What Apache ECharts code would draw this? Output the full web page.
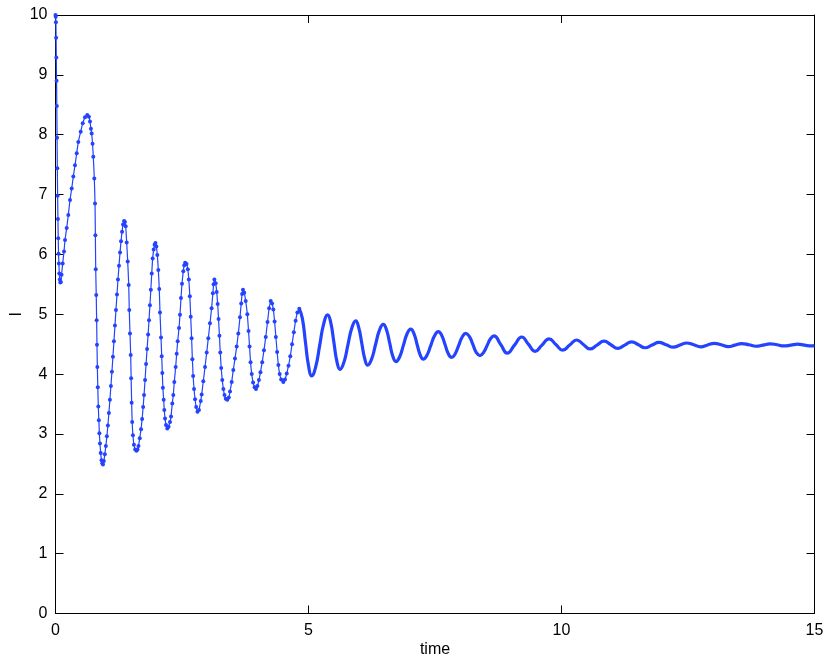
<!DOCTYPE html>
<html>
<head>
<meta charset="utf-8">
<script src="https://cdn.jsdelivr.net/npm/echarts@6/dist/echarts.min.js"></script>
<style>
html,body{margin:0;padding:0;background:#fff;}
#chart{width:830px;height:662px;}
</style>
</head>
<body>
<div id="chart"></div>
<script>
// Early part of the response (individual samples clearly visible as dots)
const earlyTime = [
0.000,0.004,0.008,0.012,0.016,0.021,0.026,0.031,0.036,0.042,0.048,0.054,0.060,0.067,0.075,0.085,0.095,0.105,0.120,
0.142,0.168,0.188,0.221,0.253,0.287,0.320,0.352,0.385,0.419,0.451,0.498,0.538,0.583,0.628,0.660,0.682,0.700,0.715,0.732,
0.747,0.767,0.781,0.788,0.795,0.805,0.813,0.820,0.827,0.836,0.846,0.857,0.867,0.879,0.893,0.910,0.925,0.938,
0.955,0.975,0.995,1.015,1.035,1.055,1.075,1.095,1.115,1.135,1.155,1.175,1.195,1.215,1.235,1.255,1.275,1.295,1.315,1.335,1.355,
1.372,1.387,1.407,1.427,1.447,1.458,1.472,1.486,1.495,1.505,1.515,1.530,1.550,1.575,1.600,
1.620,1.640,1.665,1.690,1.712,1.732,1.750,1.770,1.790,1.810,1.830,1.848,1.866,1.884,1.902,1.920,1.940,1.958,1.975,
1.993,2.012,2.032,2.051,2.065,2.085,2.099,2.111,2.122,2.138,2.150,2.165,2.184,2.209,
2.235,2.263,2.283,2.308,2.328,2.348,2.375,2.395,2.415,2.441,2.460,2.480,2.500,2.526,2.545,2.562,
2.590,2.615,2.635,2.655,2.672,2.690,2.705,2.720,2.738,2.758,2.780,2.806,
2.835,2.870,2.889,2.921,2.955,2.988,3.020,3.053,3.085,3.110,3.125,3.140,
3.165,3.186,3.205,3.222,3.240,3.256,3.275,3.296,3.318,3.340,3.365,3.395,
3.425,3.449,3.482,3.514,3.547,3.581,3.613,3.646,3.670,3.688,3.705,
3.730,3.759,3.791,3.815,3.835,3.855,3.878,3.905,3.935,3.962,
3.990,4.020,4.050,4.085,4.120,4.155,4.190,4.222,4.253,
4.280,4.305,4.330,4.355,4.380,4.405,4.430,4.460,4.502,
4.535,4.570,4.605,4.640,4.675,4.710,4.745,4.780,4.818
];
const earlyCurrent = [
10.00,9.97,9.88,9.62,9.29,8.90,8.48,7.95,7.44,6.98,6.59,6.27,6.01,5.85,5.68,5.58,5.53,5.54,5.66,
5.85,6.05,6.24,6.44,6.66,6.91,7.10,7.30,7.49,7.69,7.88,8.05,8.19,8.29,8.33,8.30,8.22,8.10,8.02,7.85,
7.63,7.27,6.85,6.32,5.75,5.32,4.90,4.49,4.12,3.78,3.46,3.23,3.01,2.84,2.68,2.56,2.51,2.49,
2.55,2.66,2.80,2.96,3.14,3.35,3.57,3.80,4.04,4.29,4.55,4.81,5.07,5.33,5.58,5.81,6.03,6.22,6.38,6.50,6.56,
6.54,6.47,6.20,5.88,5.49,5.07,4.68,4.32,3.93,3.52,3.20,2.98,2.82,2.74,2.72,
2.74,2.80,2.93,3.08,3.25,3.45,3.65,3.90,4.17,4.42,4.66,4.90,5.15,5.41,5.68,5.93,6.08,6.16,6.19,
6.13,5.99,5.74,5.42,5.03,4.61,4.30,4.02,3.77,3.57,3.40,3.26,3.15,3.09,
3.12,3.20,3.29,3.51,3.65,3.87,4.12,4.34,4.55,4.77,4.99,5.27,5.51,5.72,5.82,5.86,
5.84,5.75,5.58,5.30,4.96,4.60,4.25,3.97,3.75,3.58,3.45,3.37,
3.40,3.55,3.66,3.88,4.12,4.36,4.60,4.85,5.10,5.35,5.50,5.58,
5.52,5.37,5.17,4.92,4.64,4.36,4.10,3.90,3.75,3.65,3.59,3.57,
3.61,3.71,3.87,4.07,4.26,4.46,4.68,4.95,5.18,5.34,5.41,
5.36,5.22,5.00,4.72,4.46,4.20,4.00,3.86,3.78,3.75,
3.80,3.90,4.03,4.20,4.40,4.62,4.87,5.10,5.22,
5.18,5.08,4.88,4.62,4.37,4.15,4.00,3.91,3.87,
3.91,4.01,4.14,4.30,4.50,4.70,4.89,5.03,5.09
];
// Later part (samples merge into a thick band)
const lateTime = [
4.818,4.879,4.940,5.002,5.063,5.142,5.221,5.300,5.379,5.440,5.501,5.562,5.623,
5.701,5.778,5.856,5.933,5.992,6.052,6.111,6.170,6.247,6.324,6.401,6.478,
6.541,6.604,6.666,6.729,6.802,6.875,6.947,7.020,7.082,7.145,7.207,7.269,
7.343,7.417,7.491,7.565,7.631,7.698,7.764,7.830,7.899,7.969,8.038,8.107,
8.178,8.248,8.318,8.389,8.458,8.528,8.597,8.666,
8.798,8.929,9.071,9.213,9.345,9.476,9.615,9.753,9.889,10.024,10.162,10.300,
10.432,10.563,10.702,10.840,10.976,11.111,11.249,11.387,11.519,11.650,11.789,11.927,
12.068,12.209,12.342,12.474,12.613,12.751,12.886,13.020,13.158,13.296,13.429,13.561,
13.703,13.844,13.983,14.121,14.259,14.397,14.533,14.668,14.800,14.940,15.000
];
const lateCurrent = [
5.09,4.93,4.53,4.13,3.97,4.12,4.48,4.84,4.99,4.86,4.535,4.21,4.08,
4.20,4.485,4.77,4.89,4.78,4.52,4.26,4.15,4.25,4.49,4.73,4.83,
4.74,4.52,4.30,4.21,4.29,4.48,4.67,4.75,4.68,4.50,4.32,4.25,
4.32,4.48,4.64,4.71,4.65,4.495,4.34,4.28,4.34,4.48,4.62,4.68,
4.63,4.495,4.36,4.31,4.36,4.475,4.59,4.64,
4.495,4.35,4.485,4.62,4.50,4.38,4.485,4.59,4.495,4.40,4.485,4.57,
4.495,4.42,4.485,4.55,4.49,4.43,4.485,4.54,4.49,4.44,4.485,4.53,
4.49,4.45,4.485,4.52,4.49,4.455,4.485,4.515,4.49,4.46,4.485,4.51,
4.49,4.465,4.485,4.505,4.49,4.47,4.485,4.50,4.485,4.47,4.475
];
const xTicks = [0, 5, 10, 15];
const yTicks = [0,1,2,3,4,5,6,7,8,9,10];

const LINE_COLOR = '#2443ff';
const earlyData = earlyTime.map((t, i) => [t, earlyCurrent[i]]);
const lateData = lateTime.map((t, i) => [t, lateCurrent[i]]);

const chart = echarts.init(document.getElementById('chart'), null, {renderer: 'canvas'});
const font = 'Liberation Sans, Arial, Helvetica, sans-serif';
const axisLineStyle = {color: '#000', width: 1};
const baseX = {
  type: 'value', min: xTicks[0], max: xTicks[xTicks.length - 1], interval: 5,
  splitLine: {show: false},
  axisLine: {show: true, onZero: false, lineStyle: axisLineStyle},
  axisTick: {show: true, inside: true, length: 8, lineStyle: axisLineStyle}
};
const baseY = {
  type: 'value', min: yTicks[0], max: yTicks[yTicks.length - 1], interval: 1,
  splitLine: {show: false},
  axisLine: {show: true, onZero: false, lineStyle: axisLineStyle},
  axisTick: {show: true, inside: true, length: 8, lineStyle: axisLineStyle}
};
chart.setOption({
  animation: false,
  backgroundColor: '#fff',
  grid: {left: 55.5, right: 15.5, top: 15, bottom: 48.5, containLabel: false, outerBoundsMode: 'none'},
  xAxis: [
    Object.assign({}, baseX, {
      position: 'bottom',
      axisLabel: {show: true, color: '#000', fontSize: 16, fontFamily: font, margin: 9},
      name: 'time', nameLocation: 'middle', nameGap: 28, nameMoveOverlap: false,
      nameTextStyle: {color: '#000', fontSize: 16, fontFamily: font}
    }),
    Object.assign({}, baseX, {position: 'top', axisLabel: {show: false}})
  ],
  yAxis: [
    Object.assign({}, baseY, {
      position: 'left',
      axisLabel: {show: true, color: '#000', fontSize: 16, fontFamily: font, margin: 8},
      name: 'I', nameLocation: 'middle', nameGap: 31, nameRotate: 90, nameMoveOverlap: false,
      nameTextStyle: {color: '#000', fontSize: 16, fontFamily: font}
    }),
    Object.assign({}, baseY, {position: 'right', axisLabel: {show: false}})
  ],
  series: [
    {
      type: 'line', xAxisIndex: 0, yAxisIndex: 0, data: earlyData,
      smooth: 0.2, showSymbol: true, symbol: 'circle', symbolSize: 4,
      itemStyle: {color: LINE_COLOR}, lineStyle: {color: LINE_COLOR, width: 1.2},
      z: 3
    },
    {
      type: 'line', xAxisIndex: 0, yAxisIndex: 0, data: lateData,
      smooth: 0.5, showSymbol: false,
      lineStyle: {color: LINE_COLOR, width: 3.2},
      z: 3
    }
  ]
});
</script>
</body>
</html>
